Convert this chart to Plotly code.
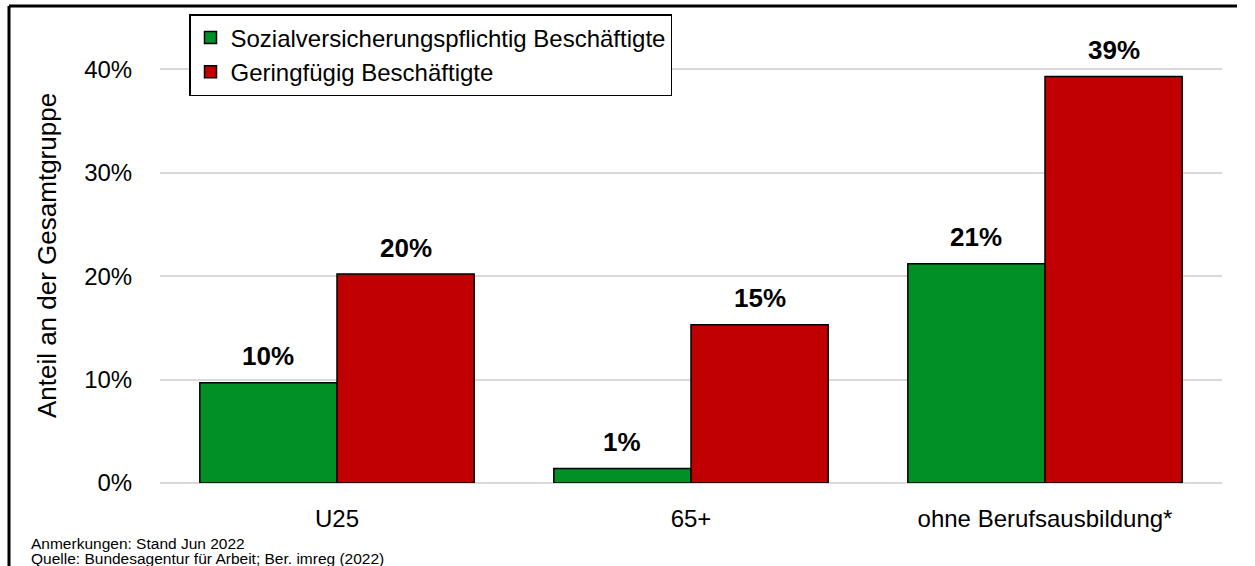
import plotly.graph_objects as go

categories = ["U25", "65+", "ohne Berufsausbildung*"]
series_names = ["Sozialversicherungspflichtig Beschäftigte", "Geringfügig Beschäftigte"]
svb_values = [0.097, 0.014, 0.212]
gb_values = [0.202, 0.153, 0.393]
y_ticks = [0, 0.1, 0.2, 0.3, 0.4]
y_tick_labels = ["0%", "10%", "20%", "30%", "40%"]
notes = ["Anmerkungen: Stand Jun 2022", "Quelle: Bundesagentur für Arbeit; Ber. imreg (2022)"]

colors = ["#009025", "#c00000"]
FONT = "Liberation Sans, Arial, sans-serif"

W, H = 1255, 566
ML, MR, MT, MB = 160, 33, 28, 83
BARGAP = 0.225
plot_w = W - ML - MR
plot_h = H - MT - MB

fig = go.Figure()
for name, vals, col, grp in [(series_names[0], svb_values, colors[0], "a"),
                             (series_names[1], gb_values, colors[1], "b")]:
    fig.add_trace(go.Bar(
        x=categories, y=vals, name=name, legendgroup=grp,
        marker=dict(color=col, line=dict(color="black", width=1.5)),
        hoverinfo="skip",
    ))

shift = (1 - BARGAP) / 4 * plot_w / len(categories)
for vals, sgn in [(svb_values, -1), (gb_values, 1)]:
    for c, v in zip(categories, vals):
        fig.add_annotation(
            x=c, y=v, xref="x", yref="y", text=f"{round(v*100):.0f}%",
            showarrow=False, xshift=sgn * shift, yshift=26.5,
            yanchor="middle", xanchor="center",
            font=dict(family=FONT, size=26, color="black", weight="bold"),
        )

for i, t in enumerate(notes):
    fig.add_annotation(
        x=(29 - ML) / plot_w, y=-(543 + 15 * i - (H - MB)) / plot_h,
        xref="paper", yref="paper", text=t, showarrow=False,
        xanchor="left", yanchor="middle",
        font=dict(family=FONT, size=15.5, color="black"),
    )

# outer frame (top and left edges visible)
fig.add_shape(type="line", xref="paper", yref="paper",
              x0=(9 - ML) / plot_w, x1=(1237 - ML) / plot_w,
              y0=(H - MB - 6) / plot_h, y1=(H - MB - 6) / plot_h,
              line=dict(color="black", width=3))
fig.add_shape(type="line", xref="paper", yref="paper",
              x0=(9 - ML) / plot_w, x1=(9 - ML) / plot_w,
              y0=(H - MB - 6) / plot_h, y1=-(MB + 20) / plot_h,
              line=dict(color="black", width=3))

fig.update_layout(
    width=W, height=H,
    margin=dict(l=ML, r=MR, t=MT, b=MB),
    paper_bgcolor="white", plot_bgcolor="white",
    barmode="group", bargap=BARGAP, bargroupgap=0,
    font=dict(family=FONT, size=24, color="black"),
    showlegend=True,
    legend=dict(
        x=(189 - ML) / plot_w, y=(H - MB - 14) / plot_h,
        xanchor="left", yanchor="top",
        bordercolor="black", borderwidth=1.5, bgcolor="white",
        font=dict(family=FONT, size=24, color="black"),
        tracegroupgap=0, traceorder="normal",
    ),
    xaxis=dict(
        showgrid=False, showline=False, zeroline=False,
        ticks="outside", ticklen=14, tickcolor="rgba(0,0,0,0)",
        tickfont=dict(family=FONT, size=24, color="black"),
    ),
    yaxis=dict(
        range=[0, 0.44], tickvals=y_ticks, ticktext=y_tick_labels,
        showgrid=True, gridcolor="#d9d9d9", gridwidth=1.5,
        zeroline=True, zerolinecolor="#d9d9d9", zerolinewidth=1.5,
        showline=False,
        ticks="outside", ticklen=22, tickcolor="rgba(0,0,0,0)",
        tickfont=dict(family=FONT, size=24, color="black"),
        title=dict(text="Anteil an der Gesamtgruppe", standoff=20,
                   font=dict(family=FONT, size=26, color="black")),
    ),
)

fig.write_html("out.html", config={"displayModeBar": False},
               post_script="document.body.style.margin='0px';document.body.style.overflow='hidden';")
